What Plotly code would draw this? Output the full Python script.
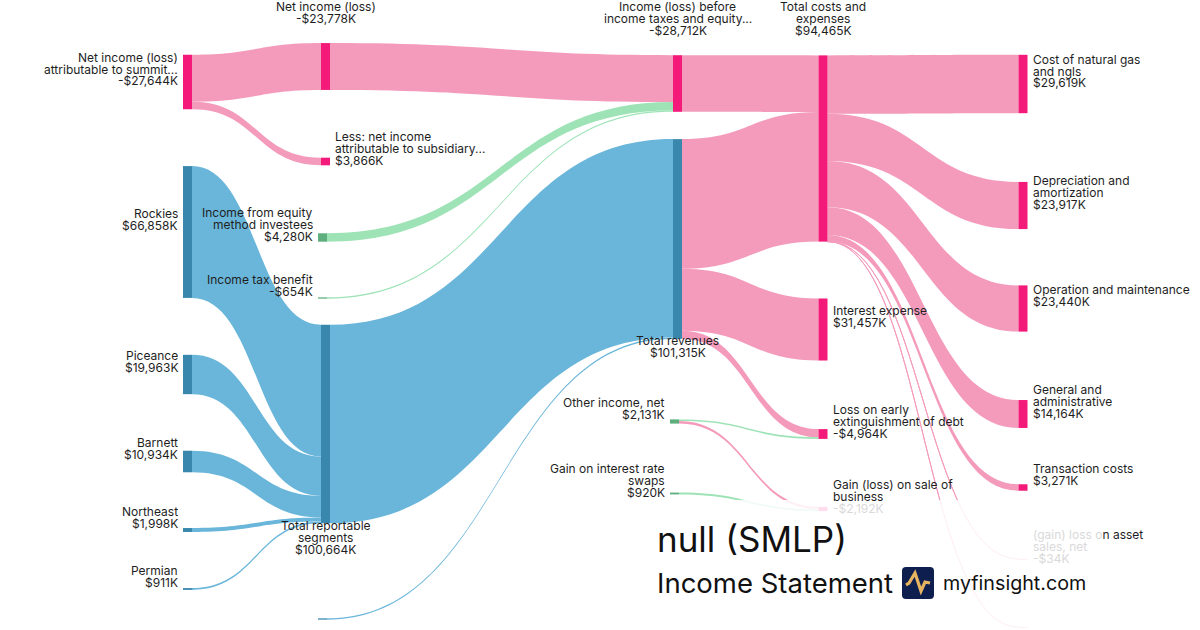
import plotly.graph_objects as go

W, H = 1200, 630

# ---------------- data ----------------
node_ids = ["NI_attr", "NI", "Sub", "Rockies", "Piceance", "Barnett", "Northeast", "Permian",
            "Equity", "Tax", "TRS", "OtherSeg", "IBT", "Rev", "OtherInc", "Swaps",
            "TCE", "Interest", "LossExt", "GainSale",
            "Gas", "DA", "OM", "GA", "Trans", "AssetSales", "OtherExp"]
node_names = ["Net income (loss)\nattributable to summit...", "Net income (loss)",
              "Less: net income\nattributable to subsidiary...",
              "Rockies", "Piceance", "Barnett", "Northeast", "Permian",
              "Income from equity\nmethod investees", "Income tax benefit",
              "Total reportable\nsegments", "",
              "Income (loss) before\nincome taxes and equity...", "Total revenues",
              "Other income, net", "Gain on interest rate\nswaps",
              "Total costs and\nexpenses", "Interest expense", "Loss on early\nextinguishment of debt",
              "Gain (loss) on sale of\nbusiness",
              "Cost of natural gas\nand ngls", "Depreciation and\namortization", "Operation and maintenance",
              "General and\nadministrative", "Transaction costs", "(gain) loss on asset\nsales, net", ""]
node_amounts = [-27644, -23778, 3866, 66858, 19963, 10934, 1998, 911,
                4280, -654, 100664, None,
                -28712, 101315, 2131, 920,
                94465, 31457, -4964, -2192,
                29619, 23917, 23440, 14164, 3271, -34, None]
node_kind = ["exp", "exp", "exp", "rev", "rev", "rev", "rev", "rev",
             "inc", "inc", "rev", "rev",
             "exp", "rev", "inc", "inc",
             "exp", "exp", "exp", "exp",
             "exp", "exp", "exp", "exp", "exp", "exp", "exp"]

link_source = ["NI_attr", "NI_attr", "NI", "Equity", "Tax", "IBT",
               "Rockies", "Piceance", "Barnett", "Northeast", "Permian", "TRS", "OtherSeg",
               "Rev", "Rev", "Rev", "OtherInc", "OtherInc", "Swaps",
               "TCE", "TCE", "TCE", "TCE", "TCE", "TCE", "TCE"]
link_target = ["NI", "Sub", "IBT", "IBT", "IBT", "TCE",
               "TRS", "TRS", "TRS", "TRS", "TRS", "Rev", "Rev",
               "TCE", "Interest", "LossExt", "LossExt", "GainSale", "GainSale",
               "Gas", "DA", "OM", "GA", "Trans", "AssetSales", "OtherExp"]
link_value = [23778, 3866, 23778, 4280, 654, 28712,
              66858, 19963, 10934, 1998, 911, 100664, 651,
              65753, 31457, 4105, 859, 1272, 920,
              29619, 23917, 23440, 14164, 3271, 34, 20]
link_kind = ["exp", "exp", "exp", "inc", "inc", "exp",
             "rev", "rev", "rev", "rev", "rev", "rev", "rev",
             "exp", "exp", "exp", "inc", "exp", "inc",
             "exp", "exp", "exp", "exp", "exp", "exp", "exp"]

# ---------------- layout (pixel positions of node centres, label placement) ----------------
node_cx = [187.5, 325.5, 325.5, 187.5, 187.5, 187.5, 187.5, 187.5,
           322.5, 322.5, 325.5, 322.5,
           677.5, 677.5, 674.5, 674.5,
           823, 823, 823, 823,
           1023, 1023, 1023, 1023, 1023, 1023, 1023]
node_cy = [82, 66.5, 161.5, 232, 374.5, 461.5, 530, 589,
           237.5, 298, 424, 619,
           83.5, 239, 421.5, 493.5,
           148.5, 329.5, 434, 509,
           84, 205.5, 308.5, 414, 487.5, 559, 627]
label_mode = ["left", "above", "right", "left", "left", "left", "left", "left",
              "left", "left", "below", "none",
              "above", "below", "left", "left",
              "above", "right", "right", "right",
              "right", "right", "right", "right", "right", "right", "none"]

NODE_COL = {"exp": "#F31A79", "rev": "#3A87AD", "inc": "#5FAF7E"}
LINK_COL = {"exp": "#F49BBC", "rev": "#6AB6DA", "inc": "#9DE3B6"}
PAD, THICK = 36, 9
TXT = "#1E1E1E"
FAINT = "#D9D9D9"
BOX = (645, 500, 1100, 630)  # translucent panel behind the title

idx = {n: i for i, n in enumerate(node_ids)}
src = [idx[s] for s in link_source]
tgt = [idx[t] for t in link_target]

# node values as plotly computes them (max of in / out)
inflow = [0] * len(node_ids)
outflow = [0] * len(node_ids)
for s, t, v in zip(src, tgt, link_value):
    outflow[s] += v
    inflow[t] += v
node_val = [max(a, b) for a, b in zip(inflow, outflow)]
sources = [i for i in range(len(node_ids)) if inflow[i] == 0]
sinks = [i for i in range(len(node_ids)) if outflow[i] == 0]
ky = min((H - (len(c) - 1) * PAD) / sum(node_val[i] for i in c) for c in (sources, sinks))


def fmt(v):
    return ("-" if v < 0 else "") + "${:,}K".format(abs(v))


annotations = []


def add_line(text, x, y, xanchor, color):
    annotations.append(dict(text=text, x=x / W, y=1 - y / H, xref="paper", yref="paper",
                            xanchor=xanchor, yanchor="middle", showarrow=False, borderpad=0,
                            font=dict(family="Inter", size=12, color=color)))


LH = 12
for i, name in enumerate(node_ids):
    mode = label_mode[i]
    if mode == "none":
        continue
    lines = node_names[i].split("\n") + [fmt(node_amounts[i])]
    n = len(lines)
    cx, cy = node_cx[i], node_cy[i]
    hh = node_val[i] * ky / 2
    for k, line in enumerate(lines):
        if mode in ("left", "right"):
            y = cy - 13 + (k - (n - 1) / 2) * LH
            x = cx - THICK / 2 - 4 if mode == "left" else cx + THICK / 2 + 4
            xa = "right" if mode == "left" else "left"
        elif mode == "above":
            y = cy - hh - 25 - (n - 1 - k) * LH
            x, xa = cx, "center"
        else:
            y = cy + hh + 2 + k * LH
            x, xa = cx, "center"
        color = TXT
        inside = y > BOX[1] + 2 and BOX[0] < x < BOX[2]
        if inside:
            if name == "AssetSales" and k == 0:
                line = '<span style="color:%s">%s</span>%s' % (FAINT, line[:13], line[13:])
            else:
                color = FAINT
        add_line(line, x, y, xa, color)

# title block
annotations += [
    dict(text="null (SMLP)", x=656 / W, y=1 - 539 / H, xref="paper", yref="paper", xanchor="left",
         yanchor="middle", showarrow=False, borderpad=0, font=dict(family="Inter", size=35, color="#111111")),
    dict(text="Income Statement", x=656 / W, y=1 - 583 / H, xref="paper", yref="paper", xanchor="left",
         yanchor="middle", showarrow=False, borderpad=0, font=dict(family="Inter", size=27.5, color="#111111")),
    dict(text="myfinsight.com", x=942 / W, y=1 - 583 / H, xref="paper", yref="paper", xanchor="left",
         yanchor="middle", showarrow=False, borderpad=0, font=dict(family="Inter", size=19.7, color="#111111")),
]


def px(x, y):
    return "%.5f,%.5f" % (x / W, 1 - y / H)


def rounded_rect(x0, y0, x1, y1, r):
    return ("M " + px(x0 + r, y0) + " L " + px(x1 - r, y0) + " Q " + px(x1, y0) + " " + px(x1, y0 + r) +
            " L " + px(x1, y1 - r) + " Q " + px(x1, y1) + " " + px(x1 - r, y1) +
            " L " + px(x0 + r, y1) + " Q " + px(x0, y1) + " " + px(x0, y1 - r) +
            " L " + px(x0, y0 + r) + " Q " + px(x0, y0) + " " + px(x0 + r, y0) + " Z")


zig = [(906, 585), (909, 583), (915, 573), (921, 591), (925, 582), (930, 583)]
shapes = [
    dict(type="rect", xref="paper", yref="paper", x0=BOX[0] / W, x1=BOX[2] / W, y0=1 - BOX[3] / H,
         y1=1 - BOX[1] / H, fillcolor="rgba(255,255,255,0.86)", line=dict(width=0), layer="above"),
    dict(type="path", xref="paper", yref="paper", path=rounded_rect(902, 567, 934, 599, 4),
         fillcolor="#0D1E4F", line=dict(width=0), layer="above"),
    dict(type="path", xref="paper", yref="paper",
         path="M " + " L ".join(px(a, b) for a, b in zig),
         line=dict(color="#E6B460", width=3.2), layer="above"),
]

fig = go.Figure(go.Sankey(
    arrangement="fixed",
    domain=dict(x=[0, 1], y=[0, 1]),
    node=dict(label=[""] * len(node_ids), x=[c / W for c in node_cx], y=[c / H for c in node_cy],
              pad=PAD, thickness=THICK, color=[NODE_COL[k] for k in node_kind],
              line=dict(width=0), hoverinfo="none"),
    link=dict(source=src, target=tgt, value=link_value,
              color=[LINK_COL[k] for k in link_kind], hoverinfo="none"),
))
fig.update_layout(width=W, height=H, margin=dict(l=0, r=0, t=0, b=0),
                  paper_bgcolor="white", plot_bgcolor="white",
                  font=dict(family="Inter", size=12, color=TXT),
                  annotations=annotations, shapes=shapes)
fig.write_html("out.html", config={"displayModeBar": False},
               post_script="document.body.style.margin='0';document.body.style.overflow='hidden';")
